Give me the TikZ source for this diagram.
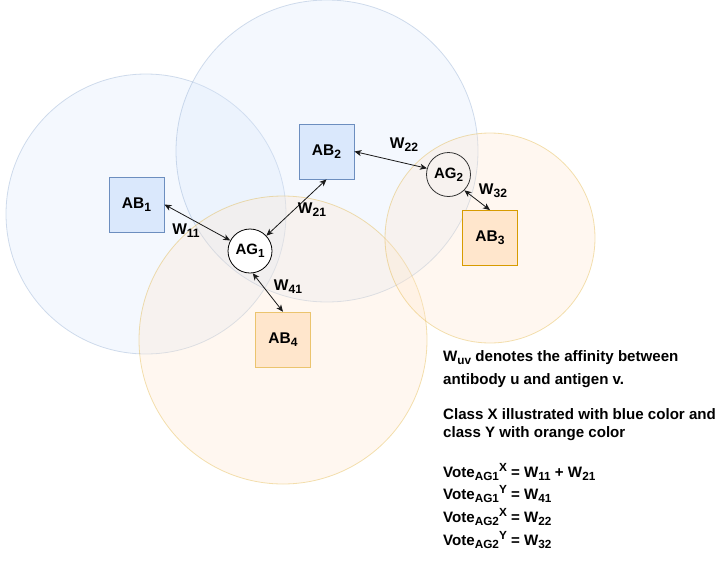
\documentclass[tikz,border=0pt]{standalone}
\usepackage{fontspec}
\usepackage{graphicx}
\setmainfont{Liberation Sans}
\usetikzlibrary{arrows.meta}
\definecolor{bfill}{HTML}{DAE8FC}
\definecolor{bline}{HTML}{6C8EBF}
\definecolor{ofill}{HTML}{FFE6CC}
\definecolor{oline}{HTML}{D79B00}
\definecolor{oline2}{HTML}{EBC46E}
\newcommand\mysub[1]{\raisebox{-0.4ex}{\scalebox{0.78}{#1}}}
\newcommand\mysup[1]{\raisebox{0.75ex}{\scalebox{0.78}{#1}}}
\begin{document}
\begin{tikzpicture}[x=1pt,y=-1pt,
  zone/.style={line width=0.8pt, fill opacity=0.3, draw opacity=0.3},
  bzone/.style={zone, fill=bfill, draw=bline},
  ozone/.style={zone, fill=ofill, draw=oline},
  abbox/.style={draw, minimum width=55pt, minimum height=55pt, inner sep=0pt,
    line width=0.8pt, font=\bfseries\fontsize{15.5}{18}\selectfont},
  abblue/.style={abbox, fill=bfill, draw=bline},
  aborange/.style={abbox, fill=ofill, draw=oline},
  agcirc/.style={circle, draw, minimum size=44pt, inner sep=0pt, line width=0.8pt,
    font=\bfseries\fontsize{15}{18}\selectfont},
  link/.style={{Stealth[length=7pt,width=6pt,inset=2pt]}-{Stealth[length=7pt,width=6pt,inset=2pt]}, line width=0.8pt, draw=black!90},
  wlab/.style={font=\bfseries\fontsize{15.5}{18}\selectfont, inner sep=0pt},
  txt/.style={anchor=base west, inner sep=0pt, font=\bfseries\fontsize{15.1}{18}\selectfont}]
\useasboundingbox (0,0) rectangle (722,568);
% zones
\path[bzone] (146,214) circle[radius=140pt];
\path[bzone] (327,151) circle[radius=151pt];
\path[ozone] (283,340) circle[radius=144pt];
\path[ozone] (490,238) circle[radius=105pt];
% nodes
\node[abblue] (AB1) at (136.5,204.5) {AB\mysub{1}};
\node[abblue] (AB2) at (326.5,151.5) {AB\mysub{2}};
\node[aborange] (AB3) at (490,238) {AB\mysub{3}};
\node[abbox, fill=ofill, draw=oline2, line width=1.5pt] (AB4) at (283,340) {AB\mysub{4}};
\node[agcirc, fill=white, draw=black] (AG1) at (250,251) {AG\mysub{1}};
\node[agcirc, draw=black!80] (AG2) at (448.5,174.5) {AG\mysub{2}};
% links
\draw[link] (AB1.east) -- (AG1.152);
\draw[link] (AB2.south) -- (AG1.43);
\draw[link] (AG1.-83) -- (AB4.north);
\draw[link] (AB2.east) -- (AG2.164);
\draw[link] (AG2.-45) -- (AB3.north);
% labels
\node[wlab] (w11) at (186,231) {W\mysub{11}};
\node[wlab] (w21) at (312,210) {W\mysub{21}};
\node[wlab] (w41) at (288,287) {W\mysub{41}};
\node[wlab] (w22) at (404,145) {W\mysub{22}};
\node[wlab] (w32) at (493,191) {W\mysub{32}};
% text
\node[txt] (t1) at (443,361) {W\mysub{uv} denotes the affinity between};
\node[txt] (t2) at (443,384) {antibody u and antigen v.};
\node[txt] (t3) at (443,419) {Class X illustrated with blue color and};
\node[txt] (t4) at (443,437) {class Y with orange color};
\node[txt] (t5) at (443,477) {Vote\mysub{AG1}\mysup{X} = W\mysub{11} + W\mysub{21}};
\node[txt] (t6) at (443,499) {Vote\mysub{AG1}\mysup{Y} = W\mysub{41}};
\node[txt] (t7) at (443,522) {Vote\mysub{AG2}\mysup{X} = W\mysub{22}};
\node[txt] (t8) at (443,545) {Vote\mysub{AG2}\mysup{Y} = W\mysub{32}};
\end{tikzpicture}
\end{document}
